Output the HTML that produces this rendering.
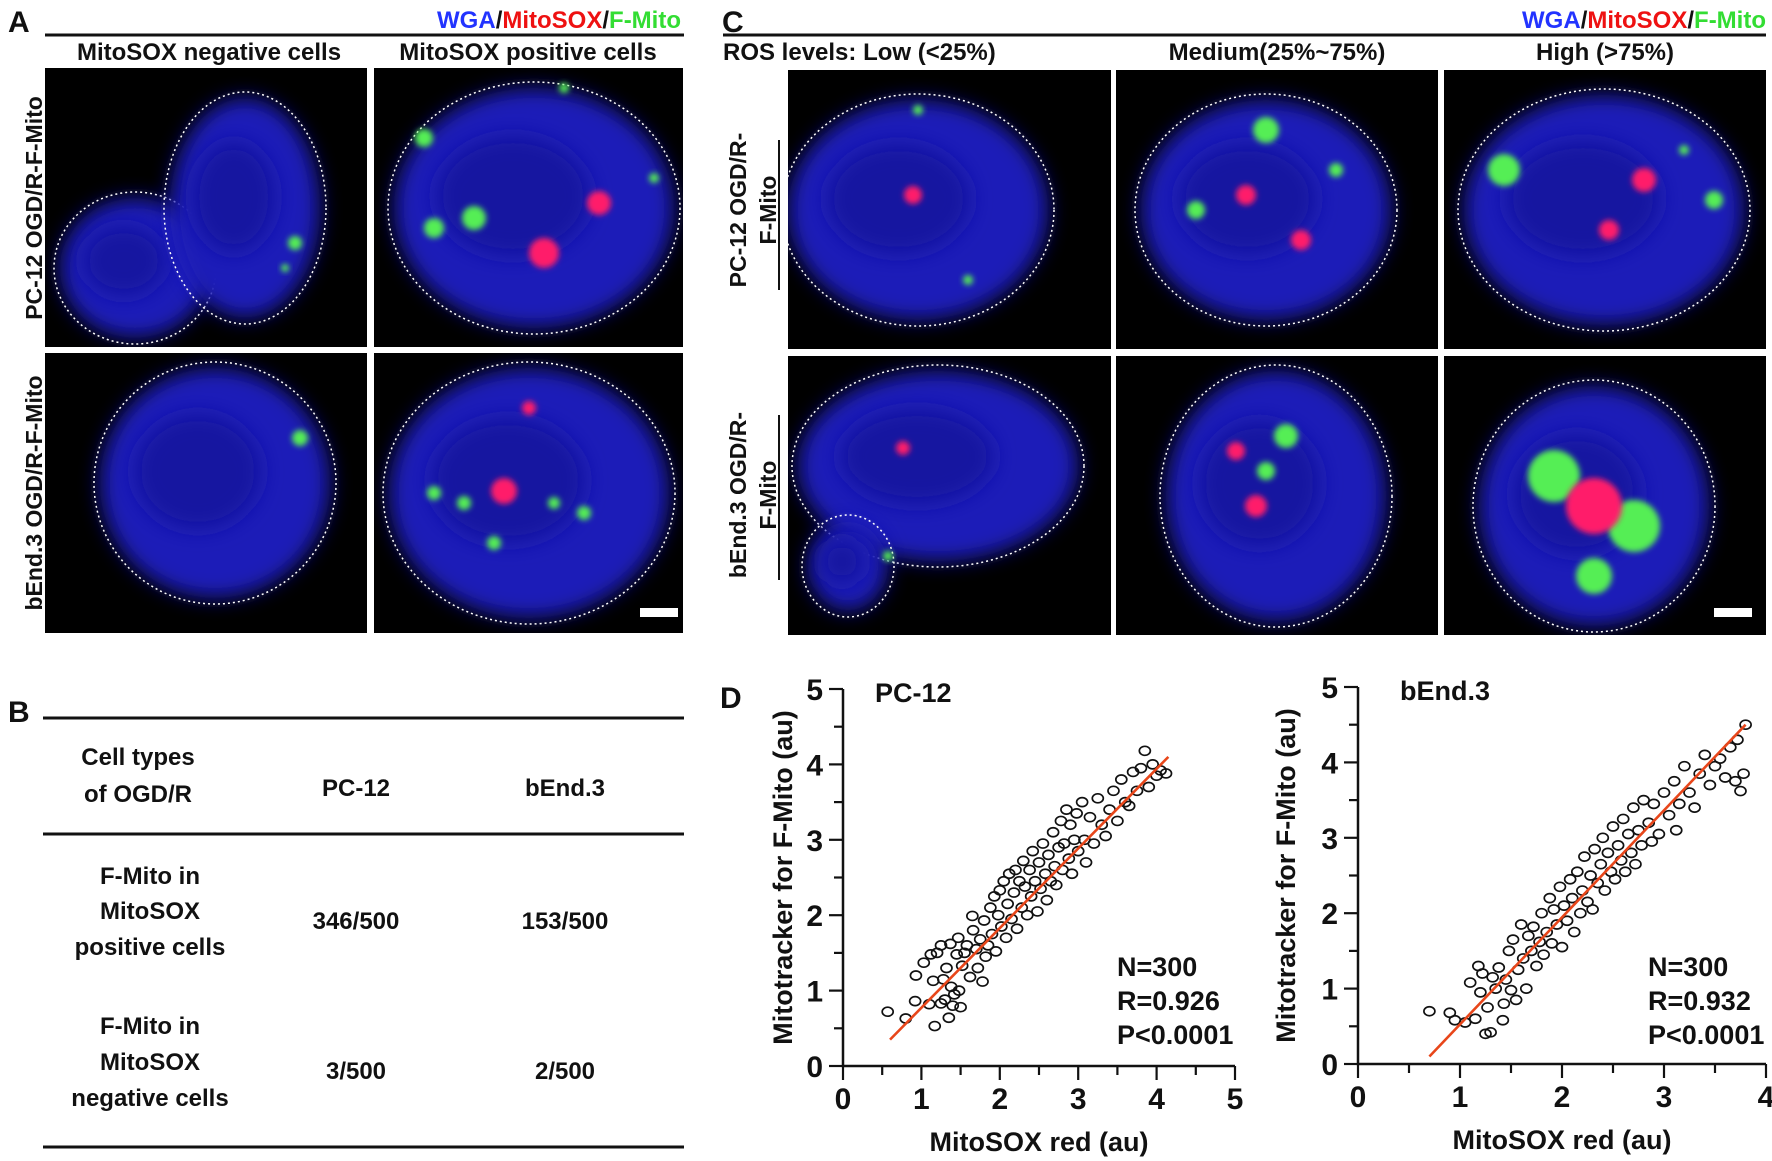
<!DOCTYPE html>
<html><head><meta charset="utf-8"><style>
html,body{margin:0;padding:0;background:#fff}
svg{display:block}
text{font-family:"Liberation Sans",Arial,sans-serif;font-weight:bold;fill:#111}
</style></head><body>
<svg id="fig" width="1772" height="1161" viewBox="0 0 1772 1161" xmlns="http://www.w3.org/2000/svg">
<defs>
<filter id="blur" x="-30%" y="-30%" width="160%" height="160%"><feGaussianBlur stdDeviation="10"/></filter>
<filter id="sblur" x="-50%" y="-50%" width="200%" height="200%"><feGaussianBlur stdDeviation="3"/></filter>
</defs>

<g>
<text x="8" y="32" font-size="30">A</text>
<text x="681" y="28" font-size="24" text-anchor="end"><tspan style="fill:#2233ff">WGA</tspan>/<tspan style="fill:#ee1111">MitoSOX</tspan>/<tspan style="fill:#33dd33">F-Mito</tspan></text>
<line x1="45" y1="35" x2="684" y2="35" stroke="#111" stroke-width="3"/>
<text x="209" y="60" font-size="24" text-anchor="middle">MitoSOX negative cells</text>
<text x="528" y="60" font-size="24" text-anchor="middle">MitoSOX positive cells</text>
<text transform="translate(42,208) rotate(-90)" font-size="23" text-anchor="middle">PC-12 OGD/R-F-Mito</text>
<text transform="translate(42,493) rotate(-90)" font-size="23" text-anchor="middle">bEnd.3 OGD/R-F-Mito</text>
</g>

<g>
<text x="722" y="32" font-size="30">C</text>
<text x="1766" y="28" font-size="24" text-anchor="end"><tspan style="fill:#2233ff">WGA</tspan>/<tspan style="fill:#ee1111">MitoSOX</tspan>/<tspan style="fill:#33dd33">F-Mito</tspan></text>
<line x1="723" y1="35" x2="1766" y2="35" stroke="#111" stroke-width="3"/>
<text x="723" y="60" font-size="24">ROS levels:  Low (&lt;25%)</text>
<text x="1277" y="60" font-size="24" text-anchor="middle">Medium(25%~75%)</text>
<text x="1605" y="60" font-size="24" text-anchor="middle">High (&gt;75%)</text>
<g transform="translate(752,210) rotate(-90)"><text text-anchor="middle" font-size="23" y="-6">PC-12 OGD/R-</text><text text-anchor="middle" font-size="23" y="24">F-Mito</text></g>
<line x1="779" y1="140" x2="779" y2="290" stroke="#111" stroke-width="2"/>
<g transform="translate(752,495) rotate(-90)"><text text-anchor="middle" font-size="23" y="-6">bEnd.3 OGD/R-</text><text text-anchor="middle" font-size="23" y="24">F-Mito</text></g>
<line x1="779" y1="415" x2="779" y2="580" stroke="#111" stroke-width="2"/>
</g>
<g id="micro"></g>

<g>
<text x="8" y="722" font-size="30">B</text>
<line x1="43" y1="718" x2="684" y2="718" stroke="#111" stroke-width="3"/>
<line x1="43" y1="834" x2="684" y2="834" stroke="#111" stroke-width="3"/>
<line x1="43" y1="1147" x2="684" y2="1147" stroke="#111" stroke-width="3"/>
<g font-size="24" text-anchor="middle">
<text x="138" y="765">Cell types</text>
<text x="138" y="802">of OGD/R</text>
<text x="356" y="796">PC-12</text>
<text x="565" y="796">bEnd.3</text>
<text x="150" y="884">F-Mito in</text>
<text x="150" y="919">MitoSOX</text>
<text x="150" y="955">positive cells</text>
<text x="356" y="929">346/500</text>
<text x="565" y="929">153/500</text>
<text x="150" y="1034">F-Mito in</text>
<text x="150" y="1070">MitoSOX</text>
<text x="150" y="1106">negative cells</text>
<text x="356" y="1079">3/500</text>
<text x="565" y="1079">2/500</text>
</g>
</g>

<text x="720" y="708" font-size="30">D</text>
<g id="plot1"></g>
<g id="plot2"></g>
</svg>
<script>
const pcX=[0.57,0.8,0.92,0.93,1.03,1.1,1.12,1.15,1.17,1.2,1.25,1.25,1.28,1.3,1.32,1.35,1.37,1.38,1.4,1.42,1.45,1.47,1.48,1.5,1.52,1.55,1.58,1.62,1.65,1.66,1.7,1.72,1.75,1.78,1.8,1.82,1.85,1.88,1.9,1.93,1.95,1.98,2.0,2.02,2.05,2.08,2.1,2.12,2.15,2.18,2.2,2.22,2.25,2.28,2.3,2.32,2.35,2.38,2.4,2.42,2.45,2.48,2.5,2.52,2.55,2.58,2.6,2.62,2.65,2.68,2.7,2.72,2.75,2.78,2.8,2.82,2.85,2.88,2.9,2.92,2.95,2.98,3.0,3.05,3.08,3.1,3.15,3.2,3.25,3.3,3.35,3.4,3.45,3.5,3.55,3.6,3.65,3.7,3.75,3.8,3.85,3.9,3.95,4.0,4.05,4.12];
const pcY=[0.72,0.63,0.86,1.2,1.37,0.82,1.48,1.13,0.53,1.5,1.6,0.83,1.15,0.88,1.3,0.64,1.62,1.05,0.8,0.95,1.48,1.7,1.0,0.78,1.33,1.5,1.6,1.18,1.99,1.8,1.55,1.3,1.68,1.12,1.93,1.45,1.6,2.1,1.75,2.25,1.52,2.0,2.33,1.85,2.45,1.7,2.15,2.55,1.95,2.3,2.6,1.82,2.45,2.1,2.72,2.38,2.0,2.6,2.25,2.85,2.45,2.05,2.7,2.35,2.95,2.55,2.2,2.8,2.45,3.1,2.65,2.4,2.9,3.25,2.6,2.95,3.4,2.75,3.2,2.55,3.0,3.35,2.85,3.5,3.0,2.7,3.3,2.95,3.55,3.2,3.05,3.4,3.65,3.25,3.8,3.5,3.45,3.9,3.65,3.95,4.18,3.7,4.0,3.85,3.92,3.88];
const pcFitX=[0.6,4.15];
const pcFitY=[0.35,4.1];
const beX=[0.7,0.9,0.95,1.05,1.1,1.15,1.18,1.2,1.22,1.25,1.27,1.3,1.32,1.35,1.38,1.42,1.43,1.45,1.48,1.5,1.52,1.55,1.57,1.6,1.62,1.65,1.67,1.7,1.72,1.75,1.78,1.8,1.82,1.85,1.88,1.9,1.92,1.95,1.98,2.0,2.02,2.05,2.08,2.1,2.12,2.15,2.18,2.2,2.22,2.25,2.28,2.3,2.32,2.35,2.38,2.4,2.42,2.45,2.48,2.5,2.52,2.55,2.58,2.6,2.62,2.65,2.68,2.7,2.72,2.75,2.78,2.8,2.85,2.88,2.9,2.95,3.0,3.05,3.1,3.12,3.15,3.2,3.25,3.3,3.35,3.4,3.45,3.5,3.55,3.6,3.65,3.7,3.72,3.75,3.78,3.8];
const beY=[0.7,0.68,0.58,0.55,1.08,0.6,1.3,0.95,1.2,0.4,0.75,0.42,1.15,1.0,1.28,0.58,0.8,1.12,1.5,0.98,1.65,0.85,1.25,1.85,1.4,1.0,1.7,1.5,1.82,1.3,1.62,2.0,1.45,1.75,2.2,1.6,2.05,1.85,2.35,1.55,2.1,1.9,2.45,2.2,1.75,2.55,2.0,2.3,2.75,2.15,2.5,2.05,2.85,2.4,2.65,3.0,2.3,2.8,2.55,3.15,2.45,2.9,2.7,3.25,2.55,3.05,2.8,3.4,2.65,3.1,2.9,3.5,3.2,2.95,3.45,3.05,3.6,3.3,3.75,3.1,3.45,3.95,3.6,3.4,3.85,4.1,3.7,3.95,4.05,3.8,4.2,3.75,4.3,3.62,3.85,4.5];
const beFitX=[0.7,3.8];
const beFitY=[0.1,4.5];
const pcXTicks=[0,1,2,3,4,5];
const beXTicks=[0,1,2,3,4];
const yTicks=[0,1,2,3,4,5];

const NS='http://www.w3.org/2000/svg';
function mk(tag,attrs,parent){const e=document.createElementNS(NS,tag);for(const k in attrs)e.setAttribute(k,attrs[k]);parent.appendChild(e);return e;}

function drawPlot(g,cfg){
  const xs=v=>cfg.x0+v*cfg.xu, ys=v=>cfg.y0-v*cfg.yu;
  const xMax=cfg.xt[cfg.xt.length-1];
  const ax=mk('path',{d:`M${xs(0)},${ys(5)} V${ys(0)} H${xs(xMax)}`,fill:'none',stroke:'#111','stroke-width':2.5},g);
  
  
  for(let v=0;v<=5.001;v+=0.5){
    const major=Math.abs(v-Math.round(v))<1e-6;
    mk('line',{x1:xs(0)-(major?14:9),x2:xs(0),y1:ys(v),y2:ys(v),stroke:'#111','stroke-width':2.2},g);
  }
  yTicks.forEach(v=>{
    const t=mk('text',{x:xs(0)-20,y:ys(v)+11,'font-size':30,'text-anchor':'end'},g);t.textContent=v;
    
    
  });
  for(let v=0;v<=xMax+0.001;v+=0.5){
    const major=Math.abs(v-Math.round(v))<1e-6;
    mk('line',{x1:xs(v),x2:xs(v),y1:ys(0),y2:ys(0)+(major?14:9),stroke:'#111','stroke-width':2.2},g);
  }
  cfg.xt.forEach(v=>{
    const t=mk('text',{x:xs(v),y:ys(0)+43,'font-size':30,'text-anchor':'middle'},g);t.textContent=v;
    
    
  });
  const xt=mk('text',{x:(xs(0)+xs(xMax))/2,y:ys(0)+85,'font-size':27,'text-anchor':'middle'},g);xt.textContent='MitoSOX red (au)';
  
  
  const yt=mk('text',{transform:`translate(${cfg.ytx},${ys(2.5)}) rotate(-90)`,'font-size':27,'text-anchor':'middle'},g);yt.textContent='Mitotracker for F-Mito (au)';
  
  
  const tl=mk('text',{x:cfg.titleX,y:ys(5)+13,'font-size':27},g);tl.textContent=cfg.title;
  
  
  cfg.px.forEach((x,i)=>{
    const c=mk('ellipse',{cx:xs(x),cy:ys(cfg.py[i]),rx:5.5,ry:4.5,fill:'none',stroke:'#111','stroke-width':1.7},g);
    
    
  });
  const fl=mk('line',{x1:xs(cfg.fx[0]),y1:ys(cfg.fy[0]),x2:xs(cfg.fx[1]),y2:ys(cfg.fy[1]),stroke:'#e8461a','stroke-width':2.6},g);
  
  
  cfg.stats.forEach((s,i)=>{
    const t=mk('text',{x:cfg.statX,y:976+i*34,'font-size':27},g);t.textContent=s;
    
    
  });
}
drawPlot(document.getElementById('plot1'),{x0:843,y0:1066,xu:78.4,yu:75.4,xt:pcXTicks,px:pcX,py:pcY,fx:pcFitX,fy:pcFitY,ytx:792,titleX:875,title:'PC-12',statX:1117,stats:['N=300','R=0.926','P<0.0001']});
drawPlot(document.getElementById('plot2'),{x0:1358,y0:1064,xu:102,yu:75.4,xt:beXTicks,px:beX,py:beY,fx:beFitX,fy:beFitY,ytx:1295,titleX:1400,title:'bEnd.3',statX:1648,stats:['N=300','R=0.932','P<0.0001']});

const micro=document.getElementById('micro');
const panels=[
 {x:45,y:68,w:322,h:279,cells:[[90,200,75,70],[200,140,75,110]],g:[[250,175,7],[240,200,4]],r:[]},
 {x:374,y:68,w:309,h:279,cells:[[160,140,140,120]],g:[[50,70,9],[60,160,10],[100,150,12],[190,20,5],[280,110,5]],r:[[225,135,12],[170,185,15]]},
 {x:45,y:353,w:322,h:280,cells:[[170,130,115,115]],g:[[255,85,8]],r:[]},
 {x:374,y:353,w:309,h:280,cells:[[155,140,140,125]],g:[[60,140,7],[90,150,7],[120,190,7],[180,150,6],[210,160,7]],r:[[130,138,13],[155,55,7]]},
 {x:788,y:70,w:323,h:279,cells:[[130,140,130,110]],g:[[130,40,5],[180,210,5]],r:[[125,125,9]]},
 {x:1116,y:70,w:322,h:279,cells:[[150,140,125,110]],g:[[80,140,9],[150,60,13],[220,100,7]],r:[[130,125,10],[185,170,10]]},
 {x:1444,y:70,w:322,h:279,cells:[[160,140,140,115]],g:[[60,100,16],[270,130,9],[240,80,5]],r:[[200,110,12],[165,160,10]]},
 {x:1116,y:356,w:322,h:279,cells:[[160,140,110,125]],g:[[170,80,12],[150,115,9]],r:[[120,95,9],[140,150,11]]},
 {x:788,y:356,w:323,h:279,cells:[[150,110,140,95],[60,210,40,45]],g:[[100,200,5]],r:[[115,92,7]]},
 {x:1444,y:356,w:322,h:279,cells:[[150,150,115,120]],g:[[110,120,26],[190,170,26],[150,220,18]],r:[[150,150,28]]}
];
panels.forEach((p,i)=>{
  const g=mk('g',{transform:`translate(${p.x},${p.y})`},micro);
  
  
  const cp='cp'+i;
  const c=mk('clipPath',{id:cp},g);mk('rect',{width:p.w,height:p.h},c);
  const inner=mk('g',{'clip-path':`url(#${cp})`},g);
  mk('rect',{width:p.w,height:p.h,fill:'#000'},inner);
  p.cells.forEach(ce=>{
    mk('ellipse',{cx:ce[0],cy:ce[1],rx:ce[2],ry:ce[3],fill:'#1c1cb8',filter:'url(#blur)'},inner);
    mk('ellipse',{cx:ce[0]-ce[2]*0.15,cy:ce[1]-ce[3]*0.1,rx:ce[2]*0.55,ry:ce[3]*0.5,fill:'#1515a0',filter:'url(#blur)'},inner);
    mk('ellipse',{cx:ce[0],cy:ce[1],rx:ce[2]+6,ry:ce[3]+6,fill:'none',stroke:'#fff','stroke-width':1.5,'stroke-dasharray':'2 3'},inner);
  });
  p.g.forEach(s=>mk('circle',{cx:s[0],cy:s[1],r:s[2],fill:'#55ee55',filter:'url(#sblur)'},inner));
  p.r.forEach(s=>mk('circle',{cx:s[0],cy:s[1],r:s[2],fill:'#ff1a6a',filter:'url(#sblur)'},inner));
});
[[640,608],[1714,608]].forEach(s=>{
  const b=mk('rect',{x:s[0],y:s[1],width:38,height:9,fill:'#fff'},micro);
  
  
});
</script>
</body></html>
